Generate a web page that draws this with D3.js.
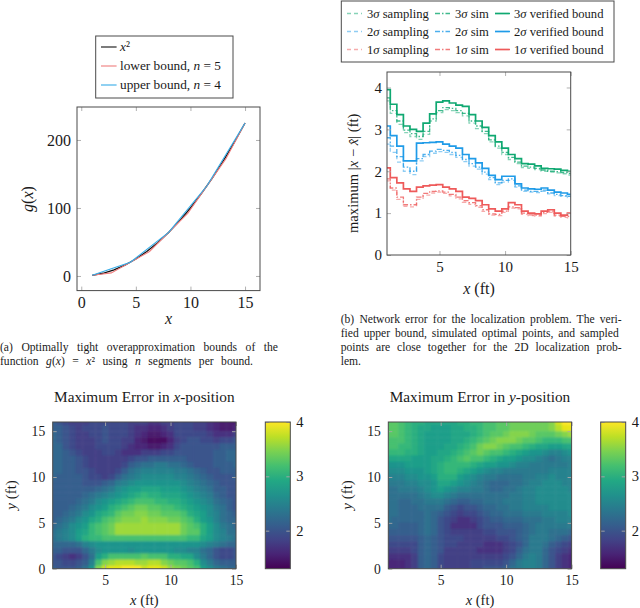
<!DOCTYPE html>
<html>
<head>
<meta charset="utf-8">
<script src="https://cdn.jsdelivr.net/npm/d3@7"></script>
<style>
html,body{margin:0;padding:0;background:#fff}
svg{display:block}
text{font-family:"Liberation Serif",serif;fill:#1a1a1a}
</style>
</head>
<body>
<svg width="640" height="608"></svg>
<script>
// chart (a) values
var squareX = [1,2,3,4,5,6,7,8,9,10,11,12,13,14,15]
var squareY = [1,4,9,16,25,36,49,64,81,100,121,144,169,196,225]
var lowerX = [1,2.75,6.25,9.75,13.25,15]
var lowerY = [1,4.5,36,92,172.5,225]
var upperX = [1,4.5,8,11.5,15]
var upperY = [1,20.25,64,132.25,225]

// chart (b) values, one reading every half foot
var stepX = [1,1.5,2,2.5,3,3.5,4,4.5,5,5.5,6,6.5,7,7.5,8,8.5,9,9.5,10,10.5,11,11.5,12,12.5,13,13.5,14,14.5,15]
var green3Bound = [3.95,3.6,3.35,3.08,3.0,2.95,3.15,3.37,3.65,3.68,3.63,3.58,3.55,3.35,3.2,3.05,2.85,2.7,2.55,2.4,2.3,2.18,2.17,2.13,2.07,2.06,2.05,2.02,2.0]
var green3Sim = [3.75,3.45,3.2,2.98,2.9,2.83,2.95,3.25,3.45,3.52,3.5,3.45,3.38,3.2,3.08,2.95,2.75,2.6,2.45,2.33,2.22,2.12,2.1,2.07,2.03,2.0,1.99,1.97,1.95]
var green3Sampling = [3.68,3.38,3.12,2.92,2.83,2.76,2.88,3.2,3.4,3.47,3.45,3.4,3.32,3.15,3.02,2.9,2.7,2.55,2.4,2.28,2.18,2.09,2.07,2.04,2.0,1.98,1.96,1.94,1.91]
var blue2Bound = [3.08,2.85,2.6,2.25,2.25,2.67,2.68,2.69,2.7,2.65,2.6,2.55,2.4,2.3,2.2,2.07,1.9,1.8,1.88,1.88,1.7,1.6,1.58,1.57,1.6,1.55,1.5,1.48,1.45]
var blue2Sim = [2.8,2.6,2.35,2.1,2.0,2.3,2.4,2.48,2.52,2.5,2.45,2.38,2.28,2.18,2.1,1.98,1.85,1.72,1.78,1.82,1.65,1.55,1.52,1.52,1.55,1.48,1.45,1.42,1.4]
var blue2Sampling = [2.65,2.45,2.22,2.0,1.92,2.25,2.35,2.43,2.47,2.45,2.4,2.33,2.23,2.12,2.05,1.93,1.8,1.68,1.74,1.78,1.62,1.52,1.5,1.49,1.52,1.46,1.42,1.4,1.37]
var red1Bound = [2.08,1.85,1.72,1.58,1.52,1.62,1.65,1.67,1.68,1.62,1.58,1.52,1.38,1.35,1.3,1.2,1.1,1.05,1.1,1.25,1.2,1.05,1.0,0.98,1.05,1.08,1.0,0.95,1.0]
var red1Sim = [1.82,1.6,1.38,1.2,1.2,1.38,1.47,1.52,1.53,1.5,1.45,1.38,1.3,1.25,1.18,1.08,0.98,0.97,1.05,1.15,1.13,1.0,0.96,0.95,1.02,1.05,0.95,0.92,0.92]
var red1Sampling = [1.77,1.55,1.33,1.16,1.15,1.33,1.43,1.48,1.5,1.47,1.41,1.34,1.26,1.21,1.14,1.04,0.95,0.94,1.02,1.12,1.1,0.97,0.94,0.93,0.99,1.02,0.93,0.9,0.89]

// heatmap grid
var gridX = stepX
var gridY = [16,15.33,14.67,14,13.33,12.67,12,11.33,10.67,10,9.33,8.67,8,7.33,6.67,6,5.33,4.67,4,3.33,2.67,2,1.33,0.67,0]

var errorX = [
[2.1,2.0,1.9,1.8,1.8,1.8,1.9,1.9,1.9,1.9,1.9,1.9,1.8,1.8,1.8,1.7,1.7,1.8,1.8,1.9,1.9,1.9,1.8,1.8,1.7,1.6,1.5,1.5,1.5],
[2.1,2.1,2.0,1.9,1.8,1.9,1.9,1.9,2.0,1.9,1.9,1.9,1.8,1.7,1.7,1.6,1.6,1.7,1.8,1.9,1.9,1.9,1.8,1.8,1.7,1.6,1.5,1.5,1.6],
[2.2,2.1,2.0,1.9,1.8,1.8,1.9,1.9,2.0,1.9,1.9,1.9,1.8,1.7,1.6,1.5,1.5,1.6,1.7,1.9,1.9,1.9,1.9,1.9,1.8,1.7,1.7,1.7,1.8],
[2.2,2.1,2.0,1.9,1.8,1.8,1.8,1.9,2.0,1.9,1.9,1.8,1.8,1.6,1.5,1.4,1.4,1.4,1.6,1.8,1.9,2.0,2.0,1.9,1.9,1.8,1.9,1.9,2.0],
[2.2,2.2,2.0,1.9,1.8,1.8,1.8,1.9,1.9,1.9,1.9,1.8,1.7,1.6,1.6,1.5,1.5,1.6,1.7,1.9,2.0,2.0,2.0,2.0,2.0,2.0,2.1,2.1,2.1],
[2.2,2.2,2.1,2.0,1.9,1.8,1.8,1.8,1.9,1.9,1.8,1.7,1.7,1.7,1.8,1.8,1.8,1.9,1.9,2.0,2.0,2.0,2.0,2.0,2.0,2.1,2.1,2.2,2.2],
[2.2,2.2,2.1,2.1,2.0,1.9,1.8,1.8,1.8,1.8,1.8,1.8,1.9,2.0,2.0,2.1,2.1,2.1,2.1,2.1,2.1,2.0,2.0,2.0,2.0,2.1,2.1,2.2,2.2],
[2.2,2.2,2.1,2.1,2.0,1.9,1.8,1.8,1.8,1.8,1.8,1.9,2.1,2.2,2.3,2.3,2.4,2.4,2.3,2.3,2.2,2.1,2.0,2.0,2.0,2.1,2.1,2.1,2.2],
[2.2,2.2,2.1,2.1,2.0,2.0,1.9,1.8,1.8,1.8,1.9,2.1,2.3,2.4,2.5,2.5,2.5,2.5,2.5,2.4,2.4,2.3,2.2,2.1,2.0,2.0,2.1,2.1,2.1],
[2.2,2.1,2.1,2.1,2.1,2.0,1.9,1.9,1.8,1.9,2.1,2.3,2.4,2.5,2.6,2.6,2.6,2.6,2.6,2.5,2.5,2.4,2.3,2.2,2.1,2.0,2.0,2.0,2.1],
[2.1,2.1,2.1,2.1,2.1,2.0,2.0,2.0,2.1,2.2,2.4,2.5,2.6,2.7,2.7,2.7,2.7,2.7,2.7,2.7,2.6,2.5,2.4,2.3,2.2,2.1,2.0,2.0,2.0],
[2.1,2.1,2.1,2.1,2.1,2.1,2.1,2.2,2.3,2.4,2.6,2.7,2.8,2.8,2.9,2.9,2.9,2.8,2.8,2.8,2.7,2.6,2.5,2.4,2.3,2.1,2.1,2.0,2.0],
[2.1,2.1,2.1,2.1,2.1,2.2,2.3,2.4,2.5,2.6,2.7,2.8,2.9,3.0,3.1,3.0,3.0,2.9,2.9,2.9,2.8,2.7,2.6,2.5,2.4,2.2,2.1,2.0,2.0],
[2.1,2.1,2.1,2.1,2.2,2.3,2.4,2.6,2.7,2.8,2.9,3.0,3.1,3.2,3.2,3.2,3.1,3.1,3.0,3.0,2.9,2.8,2.7,2.6,2.5,2.3,2.2,2.1,2.0],
[2.1,2.1,2.1,2.2,2.3,2.4,2.6,2.7,2.8,3.0,3.1,3.2,3.3,3.4,3.4,3.3,3.3,3.2,3.2,3.1,3.0,2.9,2.8,2.7,2.6,2.4,2.3,2.1,2.0],
[2.1,2.1,2.2,2.3,2.4,2.6,2.7,2.9,3.0,3.1,3.3,3.4,3.4,3.5,3.5,3.4,3.4,3.3,3.3,3.3,3.2,3.0,2.9,2.8,2.6,2.5,2.3,2.2,2.1],
[2.1,2.2,2.3,2.4,2.6,2.7,2.9,3.0,3.2,3.3,3.4,3.5,3.5,3.5,3.6,3.5,3.5,3.5,3.4,3.4,3.3,3.2,3.0,2.8,2.7,2.5,2.3,2.2,2.2],
[2.2,2.3,2.4,2.6,2.7,2.8,3.1,3.2,3.3,3.4,3.6,3.6,3.6,3.6,3.6,3.6,3.6,3.6,3.6,3.6,3.4,3.3,3.2,3.0,2.8,2.6,2.4,2.3,2.2],
[2.3,2.4,2.5,2.6,2.8,2.9,3.1,3.2,3.3,3.4,3.6,3.6,3.6,3.6,3.6,3.6,3.6,3.6,3.6,3.6,3.4,3.3,3.3,3.0,2.8,2.6,2.5,2.3,2.3],
[2.3,2.4,2.5,2.6,2.8,3.0,3.1,3.1,3.2,3.2,3.2,3.2,3.2,3.2,3.2,3.2,3.2,3.2,3.2,3.2,3.2,3.1,3.1,2.9,2.8,2.6,2.5,2.4,2.3],
[2.2,2.2,2.2,2.2,2.3,2.5,2.6,2.7,2.7,2.7,2.7,2.7,2.7,2.7,2.7,2.7,2.7,2.7,2.7,2.7,2.7,2.7,2.7,2.6,2.5,2.4,2.3,2.2,2.2],
[2.1,2.1,2.0,2.0,2.0,2.2,2.4,2.6,2.7,2.7,2.7,2.7,2.6,2.7,2.7,2.7,2.7,2.7,2.7,2.6,2.6,2.5,2.5,2.3,2.2,2.0,1.9,1.9,2.0],
[2.0,1.9,1.8,1.7,1.8,2.0,2.3,2.8,3.0,3.2,3.2,3.2,3.2,3.2,3.3,3.2,3.2,3.2,3.0,3.0,2.9,2.9,2.6,2.4,2.2,2.0,1.9,1.9,2.0],
[2.0,2.0,1.9,1.9,2.0,2.1,2.5,3.2,3.5,3.6,3.7,3.7,3.7,3.6,3.6,3.7,3.7,3.5,3.4,3.3,3.3,3.2,3.0,2.6,2.4,2.2,2.1,2.1,2.1],
[2.1,2.0,2.0,2.0,2.1,2.3,2.7,3.5,3.8,3.9,3.9,4.0,4.0,4.0,3.8,3.9,3.9,3.8,3.6,3.5,3.4,3.3,3.2,2.8,2.6,2.4,2.3,2.2,2.2]
]

var errorY = [
[3.3,3.3,3.2,3.1,3.0,3.0,2.9,2.9,2.9,2.9,2.9,3.0,3.0,3.1,3.1,3.2,3.2,3.3,3.3,3.4,3.4,3.4,3.4,3.4,3.4,3.5,3.8,4.0,4.0],
[3.3,3.3,3.2,3.1,3.0,2.9,2.9,2.8,2.8,2.8,2.9,2.9,3.0,3.0,3.1,3.2,3.2,3.3,3.3,3.4,3.4,3.4,3.4,3.4,3.4,3.5,3.7,3.9,3.9],
[3.3,3.3,3.2,3.1,3.0,2.9,2.8,2.8,2.8,2.8,2.9,2.9,2.9,3.0,3.1,3.2,3.3,3.3,3.4,3.5,3.5,3.5,3.4,3.3,3.3,3.3,3.4,3.5,3.6],
[3.2,3.2,3.2,3.1,3.0,2.9,2.8,2.8,2.8,2.8,2.9,2.9,3.0,3.1,3.2,3.3,3.4,3.5,3.5,3.5,3.4,3.3,3.3,3.2,3.1,3.1,3.1,3.2,3.2],
[3.2,3.2,3.1,3.1,3.0,2.9,2.8,2.8,2.8,2.9,2.9,3.0,3.1,3.2,3.4,3.5,3.5,3.4,3.3,3.2,3.2,3.1,3.0,2.9,2.9,2.8,2.8,2.9,2.9],
[3.1,3.1,3.1,3.0,3.0,2.9,2.8,2.8,2.9,2.9,3.0,3.1,3.2,3.3,3.4,3.3,3.2,3.2,3.1,3.0,2.9,2.8,2.7,2.7,2.6,2.5,2.5,2.6,2.7],
[2.9,2.9,2.9,2.9,2.8,2.8,2.8,2.9,2.9,3.0,3.1,3.2,3.3,3.2,3.2,3.1,3.0,2.9,2.8,2.8,2.7,2.6,2.6,2.5,2.4,2.3,2.4,2.5,2.5],
[2.7,2.7,2.7,2.8,2.8,2.8,2.8,2.9,3.0,3.1,3.1,3.1,3.1,3.0,2.9,2.8,2.8,2.7,2.7,2.6,2.5,2.5,2.4,2.4,2.4,2.4,2.4,2.4,2.5],
[2.6,2.6,2.6,2.7,2.7,2.7,2.8,2.9,3.0,3.1,3.1,3.0,2.9,2.8,2.7,2.6,2.5,2.5,2.4,2.4,2.4,2.4,2.4,2.4,2.4,2.5,2.5,2.5,2.5],
[2.5,2.5,2.5,2.6,2.6,2.7,2.7,2.8,3.0,3.0,3.0,2.8,2.7,2.6,2.5,2.4,2.4,2.3,2.3,2.3,2.3,2.4,2.4,2.5,2.5,2.6,2.5,2.5,2.5],
[2.4,2.4,2.4,2.5,2.5,2.6,2.6,2.7,2.9,2.9,2.8,2.7,2.6,2.5,2.4,2.3,2.2,2.2,2.2,2.3,2.3,2.4,2.5,2.5,2.6,2.6,2.6,2.5,2.5],
[2.3,2.3,2.4,2.4,2.4,2.5,2.6,2.7,2.8,2.7,2.6,2.5,2.5,2.4,2.4,2.3,2.2,2.2,2.3,2.3,2.4,2.5,2.5,2.6,2.6,2.6,2.6,2.6,2.5],
[2.3,2.3,2.3,2.3,2.3,2.4,2.5,2.6,2.6,2.5,2.4,2.3,2.3,2.3,2.3,2.3,2.3,2.3,2.3,2.4,2.4,2.5,2.5,2.6,2.6,2.6,2.6,2.6,2.6],
[2.3,2.3,2.2,2.2,2.3,2.3,2.4,2.4,2.4,2.3,2.2,2.1,2.1,2.2,2.2,2.3,2.3,2.3,2.4,2.4,2.4,2.5,2.5,2.6,2.6,2.6,2.6,2.6,2.6],
[2.3,2.3,2.2,2.2,2.2,2.3,2.3,2.3,2.3,2.1,2.0,1.9,2.0,2.0,2.1,2.2,2.2,2.3,2.3,2.4,2.4,2.5,2.5,2.5,2.5,2.6,2.6,2.6,2.6],
[2.3,2.3,2.2,2.2,2.2,2.2,2.3,2.2,2.1,2.0,1.9,1.8,1.9,1.9,2.0,2.1,2.2,2.2,2.3,2.3,2.3,2.4,2.4,2.4,2.5,2.5,2.5,2.5,2.6],
[2.3,2.2,2.2,2.2,2.2,2.2,2.3,2.2,2.0,1.9,1.8,1.7,1.7,1.8,1.9,2.0,2.1,2.1,2.2,2.2,2.2,2.3,2.3,2.3,2.4,2.4,2.5,2.5,2.5],
[2.2,2.2,2.1,2.1,2.1,2.2,2.3,2.2,2.0,1.9,1.7,1.7,1.7,1.7,1.9,2.0,2.0,2.0,2.1,2.1,2.1,2.2,2.3,2.4,2.4,2.4,2.4,2.4,2.4],
[2.1,2.1,2.1,2.1,2.1,2.2,2.3,2.2,2.0,1.9,1.8,1.8,1.8,1.8,1.8,1.9,1.9,2.0,2.0,2.0,2.1,2.2,2.3,2.4,2.4,2.3,2.3,2.3,2.2],
[2.0,2.0,2.0,2.0,2.0,2.1,2.2,2.1,2.0,1.9,1.9,1.9,1.8,1.8,1.8,1.8,1.8,1.9,1.9,2.0,2.1,2.2,2.4,2.4,2.4,2.3,2.2,2.1,2.0],
[1.9,1.9,1.9,1.9,1.9,2.1,2.2,2.1,2.0,1.9,1.9,1.8,1.8,1.8,1.8,1.7,1.7,1.7,1.8,1.9,2.0,2.2,2.4,2.4,2.3,2.1,2.0,1.9,1.8],
[1.8,1.8,1.8,1.8,1.9,2.1,2.2,2.1,2.0,1.8,1.8,1.8,1.8,1.8,1.7,1.7,1.7,1.7,1.8,1.9,2.1,2.3,2.4,2.4,2.2,2.0,1.9,1.8,1.7],
[1.7,1.7,1.7,1.7,1.8,2.1,2.2,2.1,1.9,1.8,1.8,1.8,1.8,1.8,1.8,1.8,1.8,1.8,1.9,2.0,2.2,2.4,2.5,2.4,2.2,2.0,1.8,1.7,1.6],
[1.6,1.6,1.6,1.7,1.8,2.1,2.2,2.1,1.9,1.8,1.8,1.8,1.8,1.9,1.9,1.9,1.9,1.9,2.0,2.2,2.4,2.5,2.5,2.4,2.2,2.0,1.8,1.7,1.6],
[1.6,1.6,1.6,1.7,1.8,2.1,2.2,2.1,1.9,1.8,1.8,1.8,1.8,1.9,1.9,2.0,2.0,2.0,2.1,2.3,2.4,2.5,2.5,2.4,2.2,2.0,1.8,1.7,1.6]
]

var frameColor = "#4a4a4a"
var tickColor = "#a8a8a8"
var redLine = "#ee5a5a"
var blueLine = "#1f9be8"
var greenLine = "#0fa871"

var svg = d3.select("svg")

//writes a string where pieces in *stars* are italic
var richText = function(sel, str)
{
    str.split("*").forEach(function(piece,i){
        if(piece.length>0){
            sel.append("tspan")
                .attr("font-style", i%2==1 ? "italic" : "normal")
                .text(piece)
        }
    })
    return sel
}

var label = function(str, x, y, size, anchor, rotate)
{
    var t = svg.append("text")
        .attr("text-anchor", anchor || "middle")
        .attr("font-size", size)
        .attr("transform", "translate("+x+","+y+")"+(rotate ? " rotate(-90)" : ""))
    return richText(t, str)
}

//inward ticks on all four sides, labels on left and bottom
var drawAxes = function(xScale, yScale, xTicks, yTicks, size, xPad, yPad)
{
    var left = xScale.range()[0], right = xScale.range()[1]
    var bottom = yScale.range()[0], top = yScale.range()[1]
    var whole = d3.format("d")

    var parts = [
        {axis:d3.axisBottom(xScale).tickValues(xTicks).tickSize(-4).tickPadding(xPad).tickFormat(whole), at:[0,bottom]},
        {axis:d3.axisTop(xScale).tickValues(xTicks).tickSize(-4).tickFormat(""), at:[0,top]},
        {axis:d3.axisLeft(yScale).tickValues(yTicks).tickSize(-4).tickPadding(yPad).tickFormat(whole), at:[left,0]},
        {axis:d3.axisRight(yScale).tickValues(yTicks).tickSize(-4).tickFormat(""), at:[right,0]}
    ]
    parts.forEach(function(p){
        var g = svg.append("g")
            .attr("transform","translate("+p.at[0]+","+p.at[1]+")")
            .call(p.axis)
        g.select(".domain").remove()
        g.selectAll("line").attr("stroke",tickColor).attr("stroke-width",0.9)
        g.selectAll("text")
            .attr("font-size",size)
            .attr("font-family",'"Liberation Serif",serif')
            .attr("fill","#1a1a1a")
    })
}

var drawFrame = function(x0,y0,x1,y1)
{
    svg.append("rect")
        .attr("x",x0).attr("y",y0)
        .attr("width",x1-x0).attr("height",y1-y0)
        .attr("fill","none")
        .attr("stroke",frameColor)
        .attr("stroke-width",1)
}

// ---- chart (a)
var drawBounds = function()
{
    var xScale = d3.scaleLinear().domain([-0.39,16.37]).range([77,260])
    var yScale = d3.scaleLinear().domain([-21.5,248.5]).range([290.6,107])

    var line = d3.line()
        .x(function(d){return xScale(d[0])})
        .y(function(d){return yScale(d[1])})

    var series = [
        {xs:squareX, ys:squareY, color:"#111", w:1.3},
        {xs:lowerX, ys:lowerY, color:"#ef7d7d", w:1.1},
        {xs:upperX, ys:upperY, color:"#35ace8", w:1.1}
    ]
    series.forEach(function(s){
        svg.append("path")
            .datum(d3.zip(s.xs,s.ys))
            .attr("fill","none")
            .attr("stroke",s.color)
            .attr("stroke-width",s.w)
            .attr("d",line)
    })

    drawAxes(xScale,yScale,[0,5,10,15],[0,100,200],16,6,6)
    drawFrame(77,107,260,290.6)

    label("*x*",168.5,324,16)
    label("*g*(*x*)",33,199,16,"middle",true)

    //legend
    drawFrame(95.7,36,233,98)
    var rows = [
        {y:47, color:"#111", text:"*x*²"},
        {y:66, color:"#ef7d7d", text:"lower bound, *n* = 5"},
        {y:85, color:"#35ace8", text:"upper bound, *n* = 4"}
    ]
    rows.forEach(function(r){
        svg.append("line")
            .attr("x1",101).attr("x2",116.6)
            .attr("y1",r.y).attr("y2",r.y)
            .attr("stroke",r.color).attr("stroke-width",1.1)
        label(r.text,120,r.y+4,13.3,"start")
    })
}

// ---- chart (b)
var drawSteps = function()
{
    var xScale = d3.scaleLinear().domain([1,15]).range([387,570.7])
    var yScale = d3.scaleLinear().domain([0,4.37]).range([255,72])

    var line = d3.line()
        .x(function(d){return xScale(d[0])})
        .y(function(d){return yScale(d[1])})
        .curve(d3.curveStep)

    var styles = {
        sampling:{dash:"4 3", w:1.3, op:0.5},
        sim:{dash:"5 2 1.5 2", w:1.3, op:0.8},
        bound:{dash:null, w:1.7, op:1}
    }
    var series = [
        {ys:green3Sampling, c:greenLine, s:"sampling", col:0, row:0, text:"3*σ* sampling"},
        {ys:green3Sim, c:greenLine, s:"sim", col:1, row:0, text:"3*σ* sim"},
        {ys:green3Bound, c:greenLine, s:"bound", col:2, row:0, text:"3*σ* verified bound"},
        {ys:blue2Sampling, c:blueLine, s:"sampling", col:0, row:1, text:"2*σ* sampling"},
        {ys:blue2Sim, c:blueLine, s:"sim", col:1, row:1, text:"2*σ* sim"},
        {ys:blue2Bound, c:blueLine, s:"bound", col:2, row:1, text:"2*σ* verified bound"},
        {ys:red1Sampling, c:redLine, s:"sampling", col:0, row:2, text:"1*σ* sampling"},
        {ys:red1Sim, c:redLine, s:"sim", col:1, row:2, text:"1*σ* sim"},
        {ys:red1Bound, c:redLine, s:"bound", col:2, row:2, text:"1*σ* verified bound"}
    ]
    series.forEach(function(s){
        var st = styles[s.s]
        svg.append("path")
            .datum(d3.zip(stepX,s.ys))
            .attr("fill","none")
            .attr("stroke",s.c)
            .attr("stroke-width",st.w)
            .attr("stroke-opacity",st.op)
            .attr("stroke-dasharray",st.dash)
            .attr("d",line)
    })

    drawAxes(xScale,yScale,[5,10,15],[0,1,2,3,4],15,6,5)
    drawFrame(387,72,570.7,255)

    label("*x* (ft)",479,294,16)
    label("maximum |*x* − *x̂*| (ft)",358,233,14.6,"start",true)

    //legend
    drawFrame(341.3,1,614,62)
    var colLine = [347,435,495]
    var colText = [367,455,514]
    var rowY = [13.5,31.5,49.5]
    series.forEach(function(s){
        var st = styles[s.s]
        svg.append("line")
            .attr("x1",colLine[s.col]).attr("x2",colLine[s.col]+15)
            .attr("y1",rowY[s.row]).attr("y2",rowY[s.row])
            .attr("stroke",s.c)
            .attr("stroke-width",st.w)
            .attr("stroke-opacity",st.op)
            .attr("stroke-dasharray",st.dash)
        label(s.text,colText[s.col],rowY[s.row]+4,12.6,"start")
    })
}

// ---- heatmaps
var drawHeat = function(id, grid, left, barLeft, title, yLabelX)
{
    var right = left+183.3
    var top = 422, bottom = 568.7
    var xScale = d3.scaleLinear().domain([1,15]).range([left,right])
    var yScale = d3.scaleLinear().domain([0,16]).range([bottom,top])
    var color = d3.scaleSequential(d3.interpolateViridis).domain([1.3,4])

    var defs = svg.append("defs")
    defs.append("clipPath").attr("id","clip"+id)
        .append("rect")
        .attr("x",left).attr("y",top)
        .attr("width",right-left).attr("height",bottom-top)
    defs.append("filter").attr("id","soft"+id)
        .attr("filterUnits","userSpaceOnUse")
        .attr("x",left-20).attr("y",top-20)
        .attr("width",right-left+40).attr("height",bottom-top+40)
        .append("feGaussianBlur").attr("stdDeviation",1.2)

    var cells = svg.append("g")
        .attr("clip-path","url(#clip"+id+")")
        .append("g")
        .attr("filter","url(#soft"+id+")")

    //outer cells run past the frame so the soft edge falls under the clip
    grid.forEach(function(row,r){
        var y0 = r==0 ? top-12 : yScale((gridY[r-1]+gridY[r])/2)
        var y1 = r==grid.length-1 ? bottom+12 : yScale((gridY[r]+gridY[r+1])/2)
        row.forEach(function(v,c){
            var x0 = c==0 ? left-12 : xScale((gridX[c-1]+gridX[c])/2)
            var x1 = c==row.length-1 ? right+12 : xScale((gridX[c]+gridX[c+1])/2)
            cells.append("rect")
                .attr("x",x0).attr("y",y0)
                .attr("width",x1-x0+0.5).attr("height",y1-y0+0.5)
                .attr("fill",color(v))
        })
    })

    drawAxes(xScale,yScale,[5,10,15],[0,5,10,15],13.6,6.5,7.5)
    drawFrame(left,top,right,bottom)

    label(title,(left+right)/2,401.5,15.3)
    label("*x* (ft)",(left+right)/2,604.5,14.5)
    label("*y* (ft)",yLabelX,495,15,"middle",true)

    //colorbar
    var barRight = barLeft+25
    var barScale = d3.scaleLinear().domain([color.domain()[0],4]).range([bottom,top])
    var gradient = defs.append("linearGradient").attr("id","bar"+id)
        .attr("x1",0).attr("x2",0).attr("y1",1).attr("y2",0)
    d3.range(0,1.01,0.1).forEach(function(t){
        gradient.append("stop")
            .attr("offset",t)
            .attr("stop-color",d3.interpolateViridis(t))
    })
    svg.append("rect")
        .attr("x",barLeft).attr("y",top)
        .attr("width",barRight-barLeft).attr("height",bottom-top)
        .attr("fill","url(#bar"+id+")")

    var barAxis = svg.append("g")
        .attr("transform","translate("+barRight+",0)")
        .call(d3.axisRight(barScale).tickValues([2,3,4]).tickSize(-4).tickPadding(6).tickFormat(d3.format("d")))
    var barAxisLeft = svg.append("g")
        .attr("transform","translate("+barLeft+",0)")
        .call(d3.axisLeft(barScale).tickValues([2,3,4]).tickSize(-4).tickFormat(""))
    ;[barAxis,barAxisLeft].forEach(function(g){
        g.select(".domain").remove()
        g.selectAll("line").attr("stroke",tickColor).attr("stroke-width",0.9)
        g.selectAll("text")
            .attr("font-size",14.5)
            .attr("font-family",'"Liberation Serif",serif')
            .attr("fill","#1a1a1a")
    })
    drawFrame(barLeft,top,barRight,bottom)
}

// ---- captions, word gaps stretched to the column width like the typeset page
var caption = function(str, x, y, width)
{
    var t = svg.append("text")
        .attr("x",x).attr("y",y)
        .attr("font-size",11.6)
    richText(t,str)
    if(width){
        var natural = t.node().getComputedTextLength()
        var gaps = str.split(" ").length-1
        t.attr("word-spacing",(width-natural)/gaps)
    }
}

drawBounds()
drawSteps()
drawHeat("L",errorX,52.7,265.3,"Maximum Error in *x*-position",16)
drawHeat("R",errorY,388.3,600.7,"Maximum Error in *y*-position",352)

caption("(a) Optimally tight overapproximation bounds of the",0,350.5,278)
caption("function *g*(*x*) = *x*² using *n* segments per bound.",0,365,253)
caption("(b) Network error for the localization problem. The veri-",340.7,322.5,281)
caption("fied upper bound, simulated optimal points, and sampled",340.7,337,278)
caption("points are close together for the 2D localization prob-",340.7,351,281)
caption("lem.",340.7,365)
</script>
</body>
</html>
